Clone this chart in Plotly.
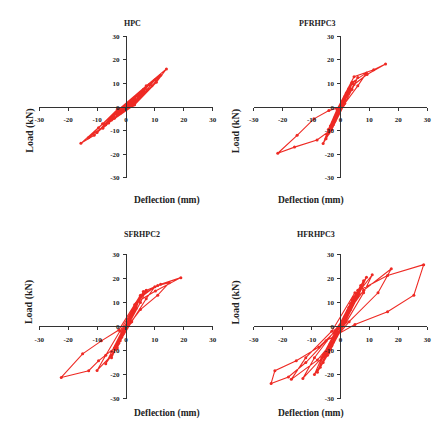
import plotly.graph_objects as go

# ---------------- data (deflection in mm, load in kN) ----------------
titles = ["HPC", "PFRHPC3", "SFRHPC2", "HFRHPC3"]
tick_vals = [-30, -20, -10, 0, 10, 20, 30]
tick_text = ["-30", "-20", "-10", "0", "10", "20", "30"]

hpc_x = [0, 1, 2, 1.3, 0.2, -1, -2, -1.3, -0.2,
         2, 4, 2.8, 0.5, -2, -4, -2.8, -0.5,
         3, 6, 4.2, 1, -3, -6, -4.3, -1,
         4, 8, 5.8, 1.5, -4, -8, -5.8, -1.5,
         5, 10, 7.3, 2, -5, -10, -7.4, -2,
         6, 12, 9, 2.5, -6, -13, -9.5, -2.5,
         7, 14, 10.5, 3, -7, -11, -15.6, -8.1, -3, 0]
hpc_y = [0, 1.4, 2.6, 1.4, 0, -1.3, -2.5, -1.3, 0,
         2.8, 5, 3, 0, -2.6, -4.8, -2.8, 0,
         3.8, 7, 4.2, 0.3, -3.4, -6.8, -4, -0.3,
         5, 9.5, 6, 0.5, -4.5, -9, -5.6, -0.5,
         6.2, 11.5, 7.4, 0.6, -5.5, -10.8, -7.2, -0.8,
         7.5, 13.5, 9, 0.8, -6.5, -13, -8.8, -1,
         9, 16.2, 10.5, 1, -7.5, -12, -15.4, -7.1, -1, 0]

pfr_x = [0, 0.5, 1, 0.6, 0, -0.5, -1, -0.6, 0,
         1, 2, 1.3, 0.2, -1, -2, -1.3, -0.2,
         1.5, 3, 2, 0.4, -1.5, -3, -2, -0.4,
         2, 4, 2.8, 0.6, -2, -4, -2.7, -0.6,
         3, 6, 4, 1, -2.5, -5, -3.5, -1,
         4, 9, 6, 1.5, -3, -6, -4.2, -1.2,
         4.7, 11.5, 15.6, 9.2, 4.7, 1.5, -0.5, -3.7, -8.1, -15.9, -21.7, -15, -9.2, -4, 0]
pfr_y = [0, 1.5, 3, 1.5, 0, -1.5, -3, -1.5, 0,
         2.8, 5.5, 3, 0, -2.8, -5.5, -3, 0,
         4.5, 8, 4.5, 0.3, -4, -8.5, -4.5, -0.3,
         6, 10, 6, 0.5, -6, -11, -6.5, -0.5,
         8, 12.5, 7.5, 0.8, -7.5, -13.5, -8, -0.8,
         10.5, 14.5, 9, 1.5, -9.5, -15.5, -9.5, -1,
         12.9, 15.8, 18.3, 13.8, 9.6, 3, -1, -10, -14, -17, -19.6, -12, -5, -1.5, 0]

sfr_x = [0, 1, 2, 1.2, 0.2, -1, -2, -1.2, -0.2,
         1.5, 3, 2, 0.4, -1.5, -3, -2, -0.4,
         2.5, 5, 3.5, 0.8, -2.5, -5, -3.5, -0.8,
         3.5, 7, 5, 1.2, -3.5, -7, -5, -1.2,
         5, 10, 7, 2, -5, -10, -7, -2,
         6, 11, 15, 11, 5, 1.5, -4, -9.5, -12.9, -22.4, -15, -8.5, -2.5,
         5, 12, 19, 10.2, 4.4, 1, 0]
sfr_y = [0, 3, 6, 3, 0, -3, -6, -3, 0,
         4.5, 9, 5, 0.5, -4.5, -9, -5, -0.5,
         7, 12.5, 7.5, 1, -7, -13, -8, -1,
         9.5, 15, 10, 1.5, -9.5, -15.5, -10.5, -1.5,
         12, 16.5, 11.5, 2, -12, -18.3, -12, -2,
         14.5, 17, 18.2, 13, 7, 1.5, -9, -14.3, -18.4, -21.2, -11.4, -6, -1.5,
         13, 17.5, 20.3, 14.7, 10.6, 2, 0]

hfr_x = [0, 1.5, 3, 2, 0.3, -1.5, -3, -2, -0.3,
         2.5, 5, 3.5, 0.6, -2.5, -5, -3.5, -0.6,
         3, 6, 4, 0.8, -3, -6, -4.2, -0.8,
         3.5, 7, 5, 1, -3.5, -7, -5, -1,
         4, 8, 5.8, 1.2, -4, -8, -6, -1.2,
         4.5, 9, 6.5, 1.5, -4.5, -9, -6.5, -1.5,
         5.5, 11, 8, 2, -6, -13, -9, -2,
         8, 17.6, 13, 3, -8, -17, -12, -3,
         5, 16.3, 28.8, 25.4, 16.3, 5, -5, -12, -18, -24, -22.7, -15.3, -7.5, 0]
hfr_y = [0, 4, 8, 4.5, 0, -4, -8, -4.5, 0,
         6.5, 12, 7, 0.5, -6.5, -12, -7, -0.5,
         8, 15, 9, 0.8, -8, -15, -9, -0.8,
         9.5, 17, 11, 1, -9.5, -17, -11, -1,
         11, 19, 12.5, 1.2, -11, -19, -12.5, -1.2,
         12, 20.5, 13.5, 1.5, -12, -20, -13, -1.5,
         13, 21.5, 14, 1.8, -12.5, -21.6, -13, -1.8,
         15, 24, 14, 2, -14, -22, -13, -2,
         14, 21.2, 25.7, 13, 6.1, 0.8, -6, -15, -21, -23.7, -18.4, -14.3, -8.6, 0]

series_x = [hpc_x, pfr_x, sfr_x, hfr_x]
series_y = [hpc_y, pfr_y, sfr_y, hfr_y]

# ---------------- layout geometry ----------------
W, H = 438, 434
x_doms = [(35 / W, 212 / W), (254 / W, 431 / W)]
y_doms = [(1 - 177 / H, 1 - 33 / H), (1 - 402 / H, 1 - 255 / H)]

RED = "#ee2a24"
FONT = "Liberation Serif"
TXT = "#222222"

fig = go.Figure()
layout = dict(width=W, height=H, margin=dict(l=0, r=0, t=0, b=0),
              paper_bgcolor="white", plot_bgcolor="white", showlegend=False)
annotations = []

for i in range(4):
    r, c = divmod(i, 2)
    xd, yd = x_doms[c], y_doms[r]
    sfx = "" if i == 0 else str(i + 1)
    fig.add_trace(go.Scatter(
        x=series_x[i], y=series_y[i], mode="lines+markers",
        line=dict(color=RED, width=1.1),
        marker=dict(color=RED, size=3),
        xaxis="x" + sfx, yaxis="y" + sfx, hoverinfo="skip"))
    xc = (xd[0] + xd[1]) / 2
    yc = (yd[0] + yd[1]) / 2
    axis_common = dict(range=[-30, 30], tickvals=tick_vals,
                       ticktext=["<b>%s</b>" % t for t in tick_text],
                       showgrid=False, zeroline=False, showline=True,
                       linecolor="#333", linewidth=1, ticks="outside",
                       ticklen=3, tickcolor="#333",
                       tickfont=dict(family=FONT, size=7, color=TXT),
                       fixedrange=True)
    layout["xaxis" + sfx] = dict(domain=list(xd), anchor="free", position=yc,
                                 ticklabelstandoff=3, **axis_common)
    layout["yaxis" + sfx] = dict(domain=list(yd), anchor="free", position=xc,
                                 side="left", ticklabelstandoff=2, **axis_common)
    # panel title
    annotations.append(dict(text="<b>%s</b>" % titles[i], x=xc - 4 / W,
                            y=yd[1] + 20 / H, xref="paper", yref="paper",
                            showarrow=False, font=dict(family=FONT, size=8, color=TXT)))
    # x axis title
    annotations.append(dict(text="<b>Deflection (mm)</b>", x=xc + 6 / W,
                            y=yd[0] - 23 / H, xref="paper", yref="paper",
                            showarrow=False, font=dict(family=FONT, size=9.5, color=TXT)))
    # y axis title
    annotations.append(dict(text="<b>Load (kN)</b>", x=xd[0] - 18 / W,
                            y=yc, xref="paper", yref="paper", textangle=-90,
                            showarrow=False, font=dict(family=FONT, size=10, color=TXT)))

layout["annotations"] = annotations
fig.update_layout(**layout)
fig.write_html("out.html", config={"displayModeBar": False},
               post_script="document.body.style.margin='0';"
                           "document.body.style.padding='0';"
                           "document.body.style.overflow='hidden';")
